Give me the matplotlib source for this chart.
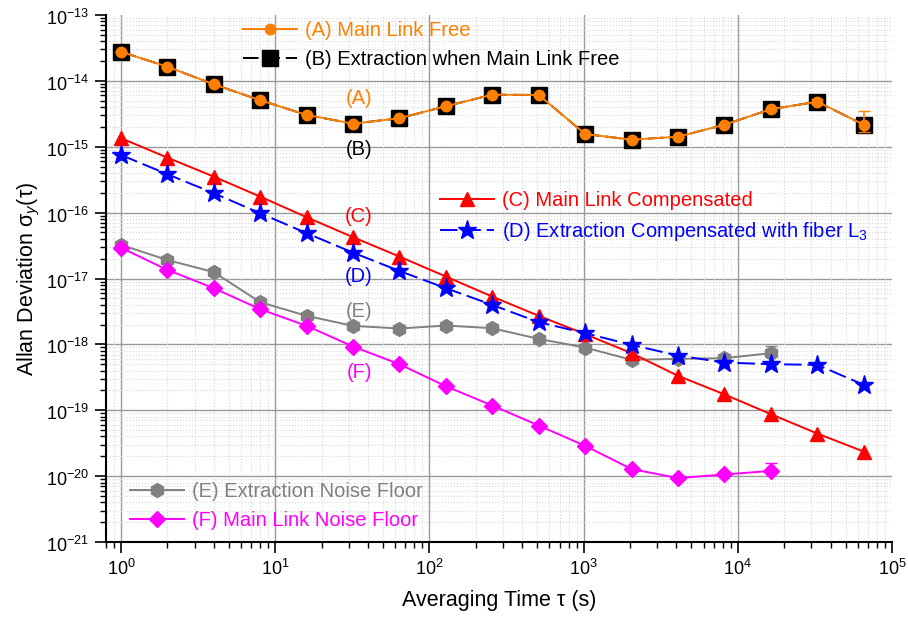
import numpy as np
import matplotlib
matplotlib.use("Agg")
import matplotlib.pyplot as plt
import matplotlib.transforms as mtransforms
from matplotlib.ticker import FixedLocator, NullFormatter, LogFormatterSciNotation
from matplotlib.lines import Line2D

plt.rcParams['font.family'] = ['Liberation Sans', 'DejaVu Sans']
plt.rcParams['mathtext.fontset'] = 'custom'
plt.rcParams['mathtext.rm'] = 'Liberation Sans'
plt.rcParams['mathtext.it'] = 'Liberation Sans:italic'
plt.rcParams['mathtext.bf'] = 'Liberation Sans:bold'

tau = [2 ** k for k in range(17)]

A_free = [2.77e-14, 1.64e-14, 8.87e-15, 5.08e-15, 3.04e-15, 2.24e-15, 2.71e-15, 4.12e-15,
          6.18e-15, 6.11e-15, 1.56e-15, 1.28e-15, 1.42e-15, 2.16e-15, 3.71e-15, 4.83e-15, 2.16e-15]
A_err_lo = [0] * 14 + [0.2e-15, 0.4e-15, 0.47e-15]
A_err_hi = [0] * 14 + [0.2e-15, 0.4e-15, 1.3e-15]
B_extr = list(A_free)
C_comp = [1.35e-15, 6.84e-16, 3.52e-16, 1.75e-16, 8.51e-17, 4.24e-17, 2.15e-17, 1.07e-17,
          5.31e-18, 2.71e-18, 1.43e-18, 7.35e-19, 3.33e-19, 1.74e-19, 8.73e-20, 4.43e-20, 2.36e-20]
C_err = [0] * 13 + [0.25e-19, 1.2e-20, 0.5e-20, 0.3e-20]
D_extr = [7.51e-16, 3.83e-16, 1.97e-16, 9.79e-17, 4.87e-17, 2.47e-17, 1.30e-17, 7.13e-18,
          3.97e-18, 2.17e-18, 1.48e-18, 9.82e-19, 6.76e-19, 5.30e-19, 5.00e-19, 4.89e-19, 2.43e-19]
tau_EF = tau[:15]
E_floor = [3.24e-17, 1.91e-17, 1.25e-17, 4.37e-18, 2.71e-18, 1.91e-18, 1.74e-18, 1.93e-18,
           1.76e-18, 1.21e-18, 8.95e-19, 5.82e-19, 6.03e-19, 6.18e-19, 7.35e-19]
E_err = [0] * 14 + [2.0e-19]
F_floor = [2.94e-17, 1.35e-17, 7.13e-18, 3.42e-18, 1.91e-18, 9.27e-19, 5.00e-19, 2.31e-19,
           1.18e-19, 5.86e-20, 2.88e-20, 1.28e-20, 9.33e-21, 1.06e-20, 1.20e-20]
F_err = [0] * 13 + [0.1e-20, 0.4e-20]

x_decades = [1e0, 1e1, 1e2, 1e3, 1e4, 1e5]
y_decades = [1e-21, 1e-20, 1e-19, 1e-18, 1e-17, 1e-16, 1e-15, 1e-14, 1e-13]

labels = ["(A) Main Link Free", "(B) Extraction when Main Link Free",
          "(C) Main Link Compensated", "(D) Extraction Compensated with fiber L$_3$",
          "(E) Extraction Noise Floor", "(F) Main Link Noise Floor"]
c_or, c_bk, c_rd, c_bl, c_gy, c_mg = "#FF8000", "#000000", "#FF0000", "#0000FF", "#808080", "#FF00FF"

fig = plt.figure(figsize=(9.08, 6.19), dpi=100)
ax = fig.add_axes([106 / 908, 1 - 542 / 619, (892 - 106) / 908, (542 - 15) / 619])
ax.set_xscale('log')
ax.set_yscale('log')
ax.set_xlim(0.8, 1e5)
ax.set_ylim(1e-21, 1e-13)

lw = 1.4
styles = {
    'A': dict(color=c_or, lw=lw, ls='-', marker='o', ms=7.5, mfc=c_or, mec=c_or),
    'B': dict(color=c_bk, lw=lw, ls=(0, (8, 3)), marker='s', ms=11, mfc=c_bk, mec=c_bk),
    'C': dict(color=c_rd, lw=lw, ls='-', marker='^', ms=9.5, mfc=c_rd, mec=c_rd),
    'D': dict(color=c_bl, lw=lw, ls=(0, (9, 3)), marker='*', ms=14, mfc=c_bl, mec=c_bl),
    'E': dict(color=c_gy, lw=lw, ls='-', marker='h', ms=10, mfc=c_gy, mec=c_gy),
    'F': dict(color=c_mg, lw=lw, ls='-', marker='D', ms=8, mfc=c_mg, mec=c_mg),
}

ax.plot(tau, B_extr, zorder=3, **styles['B'])
ax.errorbar(tau, A_free, yerr=[A_err_lo, A_err_hi], capsize=4, elinewidth=1.2, zorder=4, **styles['A'])
ax.errorbar(tau_EF, E_floor, yerr=[[0] * 15, E_err], capsize=4, elinewidth=1.2, zorder=3, **styles['E'])
ax.errorbar(tau, C_comp, yerr=C_err, capsize=0, elinewidth=1.2, zorder=4, **styles['C'])
ax.plot(tau, D_extr, zorder=5, **styles['D'])
ax.errorbar(tau_EF, F_floor, yerr=[[0] * 15, F_err], capsize=4, elinewidth=1.2, zorder=4, **styles['F'])

# ticks (only inside the view)
x_minor = [m * d for d in [0.1] + x_decades[:-1] for m in range(2, 10) if 0.8 <= m * d <= 1e5]
y_minor = [m * d for d in y_decades[:-1] for m in range(2, 10)]
ax.xaxis.set_major_locator(FixedLocator(x_decades))
ax.yaxis.set_major_locator(FixedLocator(y_decades))
ax.xaxis.set_major_formatter(LogFormatterSciNotation())
ax.yaxis.set_major_formatter(LogFormatterSciNotation())
ax.xaxis.set_minor_locator(FixedLocator(x_minor))
ax.yaxis.set_minor_locator(FixedLocator(y_minor))
ax.xaxis.set_minor_formatter(NullFormatter())
ax.yaxis.set_minor_formatter(NullFormatter())

# grid: minor dotted, major solid (not on the axis limits)
ax.grid(which='minor', color='#d8d8d8', lw=0.8, ls=':', zorder=0)
for v in x_decades[:-1]:
    ax.axvline(v, color='#999999', lw=1.0, zorder=0.5)
for v in y_decades[1:-1]:
    ax.axhline(v, color='#999999', lw=1.0, zorder=0.5)
ax.set_axisbelow(True)

for s in ['top', 'right']:
    ax.spines[s].set_visible(False)
for s in ['left', 'bottom']:
    ax.spines[s].set_linewidth(1.5)
ax.tick_params(which='major', direction='out', length=8, width=1.2, labelsize=13, pad=4)
ax.tick_params(which='minor', direction='out', length=4, width=1.0)

ax.set_xlabel("Averaging Time \u03c4 (s)", fontsize=15.5, labelpad=8)
ax.set_ylabel("Allan Deviation \u03c3$_y$(\u03c4)", fontsize=15.5, labelpad=3)

# annotations
ann_x = 35
f = 0.73
ax.text(ann_x, 7.5e-15 * f, "(A)", color=c_or, fontsize=14.5, ha='center', va='center')
ax.text(ann_x, 1.25e-15 * f, "(B)", color=c_bk, fontsize=14.5, ha='center', va='center')
ax.text(ann_x, 1.2e-16 * f, "(C)", color=c_rd, fontsize=14.5, ha='center', va='center')
ax.text(ann_x, 1.45e-17 * f, "(D)", color=c_bl, fontsize=14.5, ha='center', va='center')
ax.text(ann_x, 4.3e-18 * f, "(E)", color=c_gy, fontsize=14.5, ha='center', va='center')
ax.text(ann_x, 5.2e-19 * f, "(F)", color=c_mg, fontsize=14.5, ha='center', va='center')

def proxy(k):
    return Line2D([], [], **styles[k])

leg_kw = dict(frameon=False, fontsize=14.5, handlelength=2.7, handletextpad=0.4,
              labelspacing=0.5, borderpad=0, borderaxespad=0, loc='upper left')
l1 = ax.legend([proxy('A'), proxy('B')], labels[0:2],
               bbox_to_anchor=((243 - 106) / 786, 1 - (21 - 15) / 527), **leg_kw)
for t, c in zip(l1.get_texts(), [c_or, c_bk]):
    t.set_color(c)
ax.add_artist(l1)
l2 = ax.legend([proxy('C'), proxy('D')], labels[2:4],
               bbox_to_anchor=((440 - 106) / 786, 1 - (191 - 15) / 527), **leg_kw)
for t, c in zip(l2.get_texts(), [c_rd, c_bl]):
    t.set_color(c)
ax.add_artist(l2)
l3 = ax.legend([proxy('E'), proxy('F')], labels[4:6],
               bbox_to_anchor=((130 - 106) / 786, 1 - (482 - 15) / 527), **leg_kw)
for t, c in zip(l3.get_texts(), [c_gy, c_mg]):
    t.set_color(c)

# shift y tick labels slightly down (as in the reference)
fig.canvas.draw()
shift = mtransforms.ScaledTranslation(0, -2.0 / 100, fig.dpi_scale_trans)
for tk in ax.yaxis.get_major_ticks():
    tk.label1.set_transform(tk.label1.get_transform() + shift)

fig.savefig("out.png", dpi=100)
